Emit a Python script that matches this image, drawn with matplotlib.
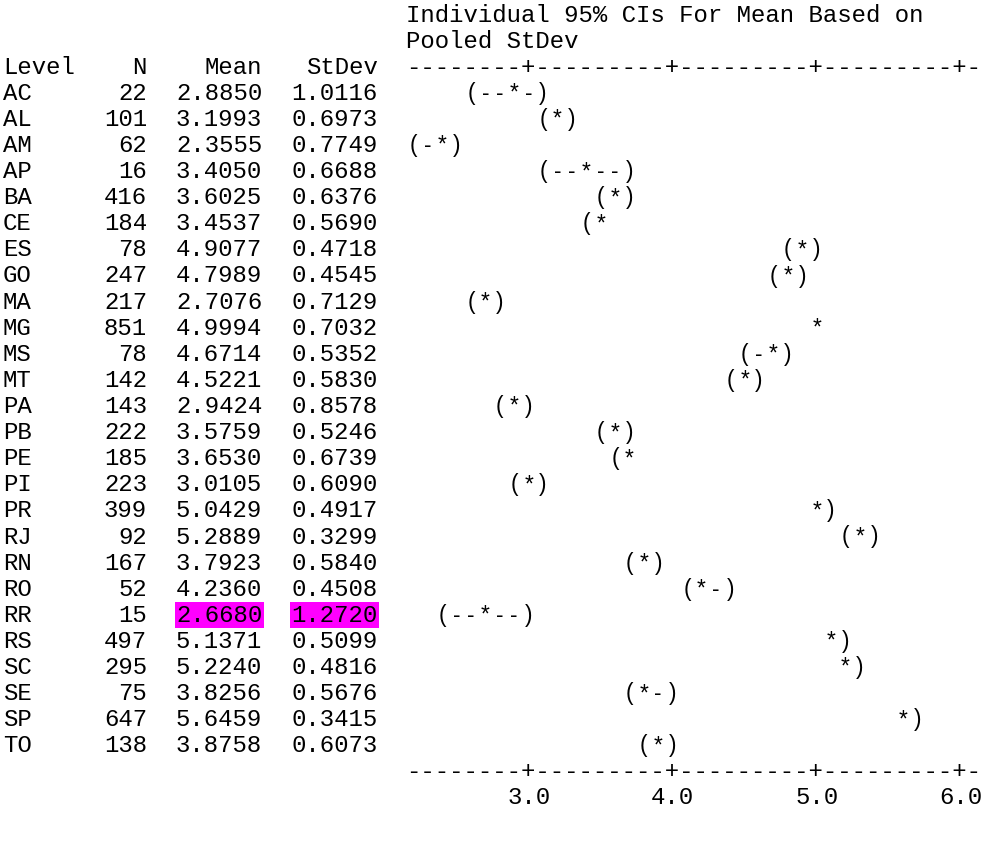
import matplotlib.pyplot as plt
import numpy as np

# Minitab one-way ANOVA output, by state
levels = ["AC", "AL", "AM", "AP", "BA", "CE", "ES", "GO", "MA", "MG", "MS", "MT", "PA",
          "PB", "PE", "PI", "PR", "RJ", "RN", "RO", "RR", "RS", "SC", "SE", "SP", "TO"]
counts = [22, 101, 62, 16, 416, 184, 78, 247, 217, 851, 78, 142, 143,
          222, 185, 223, 399, 92, 167, 52, 15, 497, 295, 75, 647, 138]
means = [2.8850, 3.1993, 2.3555, 3.4050, 3.6025, 3.4537, 4.9077, 4.7989, 2.7076, 4.9994,
         4.6714, 4.5221, 2.9424, 3.5759, 3.6530, 3.0105, 5.0429, 5.2889, 3.7923, 4.2360,
         2.6680, 5.1371, 5.2240, 3.8256, 5.6459, 3.8758]
stdevs = [1.0116, 0.6973, 0.7749, 0.6688, 0.6376, 0.5690, 0.4718, 0.4545, 0.7129, 0.7032,
          0.5352, 0.5830, 0.8578, 0.5246, 0.6739, 0.6090, 0.4917, 0.3299, 0.5840, 0.4508,
          1.2720, 0.5099, 0.4816, 0.5676, 0.3415, 0.6073]
# shape of each interval as printed (star sits on the mean)
ci_marks = ["(--*-)", "(*)", "(-*)", "(--*--)", "(*)", "(*", "(*)", "(*)", "(*)", "*",
            "(-*)", "(*)", "(*)", "(*)", "(*", "(*)", "*)", "(*)", "(*)", "(*-)",
            "(--*--)", "*)", "*)", "(*-)", "*)", "(*)"]
highlight = "RR"
ticks = [3.0, 4.0, 5.0, 6.0]
title1 = "Individual 95% CIs For Mean Based on"
title2 = "Pooled StDev"

W, H = 990, 843
pitch = 14.4      # px per character
x0 = 3            # left margin
y0 = 15           # first text line
lh = 26.1         # line height
mono = "Liberation Mono"
fs = pitch / 0.6 * 72 / 100

fig = plt.figure(figsize=(W / 100, H / 100), dpi=100)
ax = fig.add_axes([0, 0, 1, 1])
ax.set_xlim(0, W)
ax.set_ylim(H, 0)
ax.axis("off")

def col(c):
    return x0 + c * pitch

def row(r):
    return y0 + r * lh

def put(c, r, s, ha="left", **kw):
    ax.text(col(c), row(r), s, ha=ha, va="center", family=mono, fontsize=fs, **kw)

put(28, 0, title1)
put(28, 1, title2)
put(0, 2, "Level")
put(10, 2, "N", ha="right")
put(18, 2, "Mean", ha="right")
put(26, 2, "StDev", ha="right")

for i, lv in enumerate(levels):
    r = 3 + i
    put(0, r, lv)
    put(10, r, str(counts[i]), ha="right")
    box = dict(facecolor="#ff00ff", edgecolor="none", pad=1) if lv == highlight else None
    put(18, r, f"{means[i]:.4f}", ha="right", bbox=box)
    put(26, r, f"{stdevs[i]:.4f}", ha="right", bbox=box)

# interval plot: 40 character cells, 10 cells per unit, '+' on 3.0 .. 6.0
ncell = 40
lo = 3.0 - 8.5 / 10
ci = fig.add_axes([col(28) / W, 0, ncell * pitch / W, 1])
ci.set_xlim(lo, lo + ncell / 10)
ci.set_ylim(H, 0)
ci.axis("off")

centers = np.round(lo + (np.arange(ncell) + 0.5) / 10, 1)
axis_line = "".join("+" if c in ticks else "-" for c in centers)
for r in (2, 3 + len(levels)):
    ci.text(lo, row(r), axis_line, ha="left", va="center", family=mono, fontsize=fs)
for t in ticks:
    ci.text(t, row(4 + len(levels)), f"{t:.1f}", ha="center", va="center",
            family=mono, fontsize=fs)

for i, m in enumerate(means):
    s = ci_marks[i]
    star = round(m, 1)
    k = s.index("*")
    for j, ch in enumerate(s):
        ci.text(star + (j - k) / 10, row(3 + i), ch, ha="center", va="center",
                family="Liberation Sans", fontsize=fs * 0.95)

fig.savefig("out.png", dpi=100, facecolor="white")
